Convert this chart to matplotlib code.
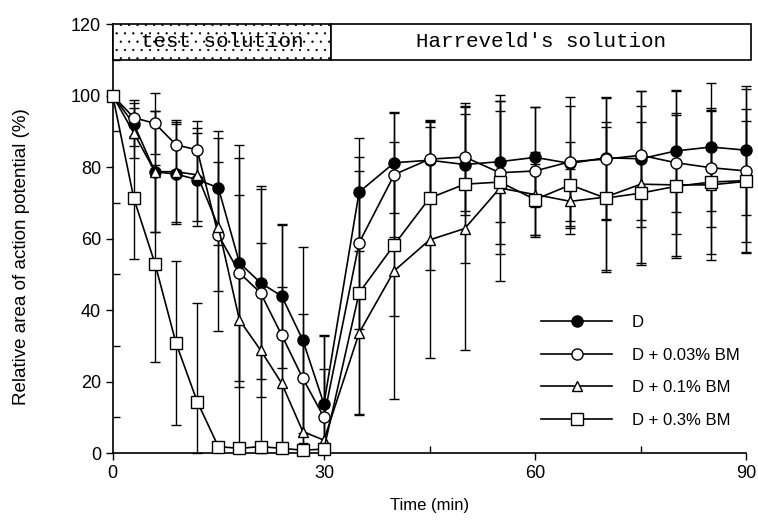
import matplotlib
matplotlib.use("Agg")
import matplotlib.pyplot as plt
from matplotlib.patches import Rectangle
from matplotlib.ticker import MultipleLocator

plt.rcParams['font.family'] = ['Liberation Sans', 'DejaVu Sans']
plt.rcParams['hatch.linewidth'] = 0.4

time_min = [0, 3, 6, 9, 12, 15, 18, 21, 24, 27, 30, 35, 40, 45, 50, 55, 60, 65, 70, 75, 80, 85, 90]

d_mean = [100, 92, 78.7, 78, 76.5, 74.2, 53.2, 47.6, 43.9, 31.6, 13.7,
          73, 81.2, 81.9, 80.7, 81.5, 82.7, 81, 82.6, 82.3, 84.5, 85.6, 84.7]
d_err = [0, 6, 17, 14, 13, 16, 33, 27, 20, 26, 19,
         15, 14, 11, 14, 17, 14, 16, 17, 19, 17, 18, 18]

bm003_mean = [100, 93.8, 92.2, 86.2, 84.8, 61, 50.4, 44.8, 33, 20.9, 10,
              58.8, 77.9, 82.2, 82.8, 78.4, 78.9, 81.5, 82.2, 83.3, 81.2, 79.8, 78.9]
bm003_err = [0, 5, 8.5, 7, 8, 27, 32, 29, 31, 18, 23,
             24, 17.6, 11, 15, 20, 18, 18, 17, 18, 20, 16.7, 23]

bm01_mean = [100, 89.5, 78.7, 78.7, 77.8, 63.3, 37.2, 28.8, 19.5, 6, 3.6,
             33.6, 51, 59.6, 62.8, 74.1, 72.3, 70.4, 71.6, 75.2, 75, 75, 76]
bm01_err = [0, 7, 17, 14, 13, 18, 35, 30, 27, 25, 20,
            23, 36, 33, 34, 26, 12, 9, 21, 22, 20, 21, 17]

bm03_mean = [100, 71.2, 53, 30.7, 14.4, 1.8, 1.3, 1.8, 1.3, 0.8, 1.1,
             44.8, 58.3, 71.3, 75.2, 75.8, 70.9, 75, 71.3, 72.7, 74.6, 75.8, 76.2]
bm03_err = [0, 17, 27.5, 23, 27.6, 1, 1, 1, 1, 1, 1,
            34, 20, 20, 22, 20, 10, 12, 20, 20, 20, 20, 20]

labels = ["D", "D + 0.03% BM", "D + 0.1% BM", "D + 0.3% BM"]
markers = ["o", "o", "^", "s"]
faces = ["black", "white", "white", "white"]

fig = plt.figure(figsize=(7.58, 5.2), dpi=100)
ax = fig.add_axes([0.1487, 0.1288, 0.8359, 0.825])

series = [(d_mean, d_err), (bm003_mean, bm003_err), (bm01_mean, bm01_err), (bm03_mean, bm03_err)]
handles = []
for (m, e), lab, mk, fc in zip(series, labels, markers, faces):
    lower = [min(ei, mi) for mi, ei in zip(m, e)]
    ax.errorbar(time_min, m, yerr=[lower, e], fmt='none', ecolor='black', elinewidth=1.0,
                capsize=3.5, capthick=1.0, zorder=2, clip_on=False)
    h, = ax.plot(time_min, m, color='black', lw=1.2, marker=mk,
                 markersize=8 if mk != '^' else 7.5,
                 markerfacecolor=fc, markeredgecolor='black', markeredgewidth=1.0,
                 label=lab, zorder=3, clip_on=False)
    handles.append(h)

ax.set_xlim(0, 90)
ax.set_ylim(0, 120)
ax.xaxis.set_major_locator(MultipleLocator(30))
ax.xaxis.set_minor_locator(MultipleLocator(15))
ax.yaxis.set_major_locator(MultipleLocator(20))
ax.yaxis.set_minor_locator(MultipleLocator(10))
ax.tick_params(which='major', direction='out', length=5, width=1.0, labelsize=13, colors='black')
ax.tick_params(which='minor', direction='in', length=5, width=1.0)
for s in ['top', 'right']:
    ax.spines[s].set_visible(False)
for s in ['left', 'bottom']:
    ax.spines[s].set_linewidth(1.2)

ax.set_xlabel("Time (min)", fontsize=12, labelpad=12)
ax.set_ylabel("Relative area of action potential (%)", fontsize=13.5)
ax.yaxis.set_label_coords(-0.131, 0.457)

# solution bars at top
box_split = 31
box_end = 90.6
ax.add_patch(Rectangle((0, 110), box_split, 10, facecolor='white', edgecolor='black',
                       hatch='..', lw=1.2, clip_on=False, zorder=4))
ax.add_patch(Rectangle((box_split, 110), box_end - box_split, 10, facecolor='white',
                       edgecolor='black', lw=1.2, clip_on=False, zorder=4))
ax.text(box_split / 2, 115, "test solution", ha='center', va='center', fontsize=15,
        family='Liberation Mono', zorder=5)
ax.text((box_split + box_end) / 2, 115, "Harreveld's solution", ha='center', va='center',
        fontsize=15, family='Liberation Mono', zorder=5)

leg = ax.legend(handles=handles, loc='center', bbox_to_anchor=(0.833, 0.19), frameon=False,
                fontsize=12, handlelength=4.25, labelspacing=1.05, handletextpad=1.2)

fig.savefig("out.png", dpi=100)
